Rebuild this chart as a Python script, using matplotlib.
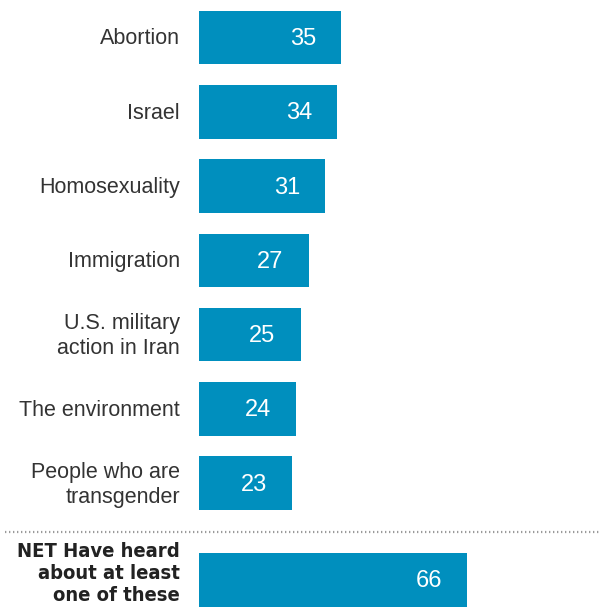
import matplotlib.pyplot as plt
from matplotlib.lines import Line2D

# data
labels = ["Abortion", "Israel", "Homosexuality", "Immigration",
          "U.S. military\naction in Iran", "The environment",
          "People who are\ntransgender"]
values = [35, 34, 31, 27, 25, 24, 23]
net_label = "NET Have heard\nabout at least\none of these"
net_value = 66

BAR_COLOR = "#008fbe"
TEXT_COLOR = "#333333"

fig = plt.figure(figsize=(6.0, 6.08), dpi=100)
# axes: x=0 at pixel 199, right edge at figure edge
ax = fig.add_axes([199 / 600, 0, 401 / 600, 1])
ax.set_xlim(0, 401 / 4.06)
ax.set_ylim(7.68, -0.505)
ax.axis("off")

ypos = list(range(len(labels)))
net_y = 7.3
bar_h = 0.72

ax.barh(ypos, values, height=bar_h, color=BAR_COLOR)
ax.barh([net_y], [net_value], height=bar_h, color=BAR_COLOR)

label_gap = 19 / 4.06
val_inset = 25 / 4.06
for y, lab, v in zip(ypos, labels, values):
    ax.text(-label_gap, y + 0.02, lab, ha="right", va="center", fontsize=15.5,
            color=TEXT_COLOR, family="Liberation Sans", linespacing=1.25,
            clip_on=False)
    ax.text(v - val_inset, y + 0.02, str(v), ha="right", va="center",
            fontsize=17, color="white", family="Liberation Sans")

ax.text(-label_gap, net_y - 0.08, net_label, ha="right", va="center",
        fontsize=14.5, fontweight="bold", color="#222222", family="DejaVu Sans",
        fontstretch="condensed", linespacing=1.2, clip_on=False)
ax.text(net_value - val_inset, net_y + 0.02, str(net_value), ha="right",
        va="center", fontsize=17, color="white", family="Liberation Sans")

# dotted separator across the full width
sep_y = 1 - 532 / 608
fig.add_artist(Line2D([5 / 600, 1], [sep_y, sep_y], color="#9a9a9a",
                      lw=1.6, linestyle=(0, (0.6, 1.2)),
                      transform=fig.transFigure))

fig.savefig("out.png", dpi=100)
